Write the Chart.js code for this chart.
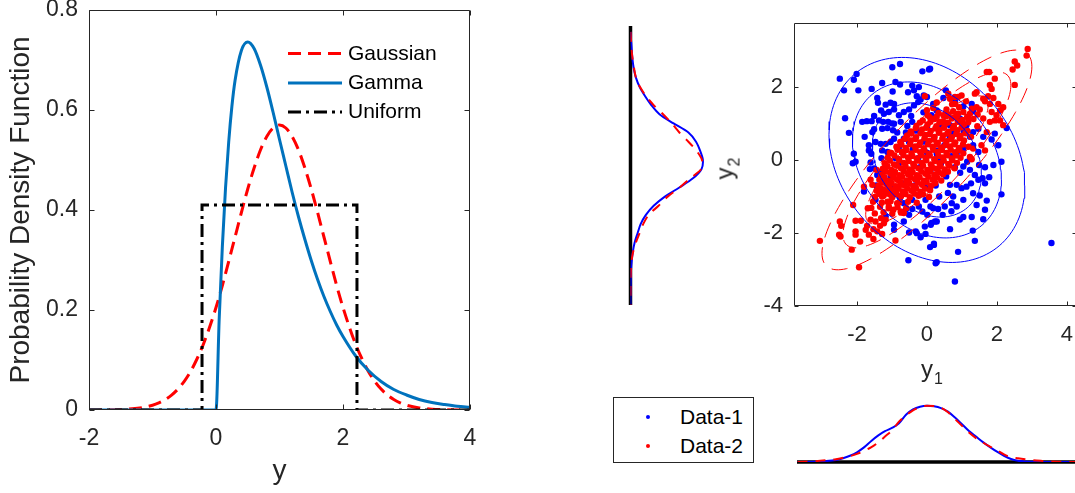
<!DOCTYPE html>
<html>
<head>
<meta charset="utf-8">
<script src="https://cdn.jsdelivr.net/npm/chart.js@4.4.1/dist/chart.umd.min.js"></script>
<style>
  html, body { margin: 0; padding: 0; background: #fff; overflow: hidden; }
  body { position: relative; width: 1075px; height: 493px; font-family: "Liberation Sans", Arial, sans-serif; color: #262626; }
  canvas { position: absolute; }
  #pdf { left: 0; top: 0; }
  #margY { left: 600px; top: 0; }
  #scatter { left: 700px; top: 0; }
  #margX { left: 790px; top: 390px; }
  .axlabel { position: absolute; font-size: 24px; line-height: 24px; white-space: nowrap; }
  .axlabel .sub { font-size: 16px; position: relative; top: 7px; margin-left: 1px; }
  #y1label { left: 921px; top: 357px; }
  #y2label { left: 706px; top: 155px; width: 40px; text-align: center; transform: rotate(-90deg); }
  #dataLegend { position: absolute; left: 613px; top: 397px; width: 139px; height: 64px; border: 1px solid #262626; background: #fff; }
  .lg-row { position: absolute; left: 0; width: 139px; height: 24px; line-height: 24px; font-size: 21px; color: #000; }
  .lg-dot { position: absolute; left: 32px; width: 4px; height: 4px; border-radius: 50%; }
  .lg-text { position: absolute; left: 66px; top: 0; }
</style>
</head>
<body>
<canvas id="pdf" width="480" height="493"></canvas>
<canvas id="margY" width="130" height="320"></canvas>
<canvas id="scatter" width="385" height="400"></canvas>
<canvas id="margX" width="295" height="90"></canvas>
<div id="y2label" class="axlabel">y<span class="sub">2</span></div>
<div id="y1label" class="axlabel">y<span class="sub">1</span></div>
<div id="dataLegend"></div>
<script>
// ---- left panel: probability density functions ----
const pdfNames = ['Gaussian', 'Gamma', 'Uniform'];
const pdfXTicks = [-2, 0, 2, 4];
const pdfXTickLabels = ['-2', '0', '2', '4'];
const pdfYTicks = [0, 0.2, 0.4, 0.6, 0.8];
const pdfYTickLabels = ['0', '0.2', '0.4', '0.6', '0.8'];

const gaussX = [-2, -1.6, -1.4, -1.2, -1.0, -0.9, -0.8, -0.7, -0.6, -0.5, -0.4, -0.3, -0.2, -0.1,
  0, 0.1, 0.2, 0.3, 0.4, 0.5, 0.6, 0.7, 0.8, 0.9, 1.0, 1.1, 1.2, 1.3, 1.4, 1.5, 1.6, 1.7, 1.8, 1.9,
  2.0, 2.1, 2.2, 2.3, 2.4, 2.5, 2.6, 2.7, 2.8, 2.9, 3.0, 3.2, 3.4, 3.6, 4.0];
const gaussY = [0.0001, 0.0006, 0.0016, 0.0041, 0.0096, 0.0143, 0.0209, 0.0299, 0.0418, 0.0573, 0.0771, 0.102, 0.131, 0.166,
  0.205, 0.249, 0.297, 0.346, 0.395, 0.442, 0.484, 0.520, 0.547, 0.564, 0.570, 0.564, 0.547, 0.520, 0.484, 0.442, 0.395, 0.346, 0.297, 0.249,
  0.205, 0.166, 0.131, 0.102, 0.0771, 0.0573, 0.0418, 0.0299, 0.0209, 0.0143, 0.0096, 0.0041, 0.0016, 0.0006, 0.0001];

const gammaX = [-2, -1, 0, 0.05, 0.1, 0.15, 0.2, 0.25, 0.3, 0.4, 0.5, 0.6, 0.7, 0.8, 0.9, 1.0, 1.1, 1.2, 1.3, 1.4,
  1.5, 1.6, 1.7, 1.8, 1.9, 2.0, 2.2, 2.4, 2.6, 2.8, 3.0, 3.2, 3.4, 3.6, 3.8, 4.0];
const gammaY = [0, 0, 0, 0.181, 0.327, 0.444, 0.536, 0.607, 0.659, 0.719, 0.736, 0.723, 0.690, 0.646, 0.595, 0.541, 0.488, 0.435, 0.386, 0.341,
  0.299, 0.261, 0.227, 0.197, 0.170, 0.147, 0.108, 0.079, 0.057, 0.041, 0.030, 0.021, 0.015, 0.011, 0.0076, 0.0054];

const uniformX = [-2, -0.22, -0.22, 2.22, 2.22, 4];
const uniformY = [0, 0, 0.41, 0.41, 0, 0];

// ---- right panel: scatter of two data sets ----
const seriesNames = ['Data-1', 'Data-2'];
const scatterXTicks = [-2, 0, 2, 4];
const scatterXTickLabels = ['-2', '0', '2', '4'];
const scatterYTicks = [-4, -2, 0, 2];
const scatterYTickLabels = ['-4', '-2', '0', '2'];

const data1Points = [
  [-0.77,2.62],[-0.99,2.53],[-2.49,2.22],[-2.01,2.35],[-2.09,2.19],[-2.37,1.9],[-1.96,1.9],[-1.28,2.1],[-1.58,1.94],
  [-0.98,1.87],[-0.9,2.13],[-0.77,2.06],[-0.54,1.85],[-0.42,2.03],[-0.13,2.42],[0.06,2.47],[-0.23,1.99],[-0.37,1.9],
  [-2.34,1.14],[-2.23,0.74],[-1.78,0.63],[-1.85,1.04],[-1.72,1.06],[-1.51,1.2],[-1.58,1.06],[-1.56,0.76],[-1.51,0.84],
  [-1.42,1.69],[-1.4,1.56],[-1.18,1.51],[-1.04,1.56],[-0.94,1.53],[-1.31,1.35],[-1.23,1.26],[-1.09,1.31],[-0.94,1.38],
  [-1.37,1.08],[-1.25,1.04],[-1.11,1.04],[-0.94,0.99],[-1.28,0.85],[-1.13,0.87],[-0.97,0.81],[-0.8,1.22],[-0.66,1.31],
  [-0.51,1.38],[-0.37,1.49],[-0.25,1.58],[-0.29,1.74],[-0.18,1.65],[-0.09,1.76],[0,1.72],[-0.75,1.04],[-0.56,0.93],
  [-0.42,1.04],[-0.94,0.58],[-1.66,0.4],[-1.59,0.17],[-1.66,0.26],[-1.47,0.49],[-1.32,0.44],[-1.18,0.44],[-1.04,0.49],
  [-1.28,0.26],[-1.13,0.22],[-0.66,0.58],[-0.51,0.49],[-0.8,0.35],[-2.09,0.17],[-2.04,-0.05],[-2.12,-0.09],
  [0.09,2.49],[0.54,1.9],[0.47,1.69],[0.18,1.53],[0.28,1.35],[0.13,1.22],[1.28,1.53],[1.04,1.46],[1.32,1.33],
  [0.94,1.13],[1.13,0.95],[1.32,0.76],[1.47,0.85],[1.61,0.63],[1.94,0.72],[1.85,0.56],[2.04,0.4],[2.28,0.87],
  [2.13,-0.05],[1.47,0.22],[1.32,0.4],[1.23,0.63],[0.75,0.72],[0.66,0.95],[1.04,0.31],[0.85,0.17],[0.28,0.17],[0.32,0.04],
  [1.9,-0.14],[1.66,-0.2],[1.49,-0.14],[1.04,-0.18],[1.23,-0.27],[1.37,-0.41],[1.59,-0.5],[1.78,-0.47],[1.66,-0.64],
  [1.47,-0.54],[1.26,-0.64],[1.13,-0.73],[0.99,-0.77],[0.85,-0.68],[0.66,-0.68],[2.13,-0.94],[1.32,-0.91],[1.51,-0.97],
  [1.71,-1.11],[1.42,-1.23],[1.04,-1.09],[0.75,-1.0],[0.71,-1.18],[0.85,-1.27],[0.51,-1.27],[0.32,-1.34],[0.18,-1.32],
  [1.66,-1.36],[1.61,-1.62],[1.28,-1.56],[1.04,-1.56],[0.94,-1.63],[0.13,-1.72],[0.28,-1.68],[0.66,-1.89],[1.31,-1.93],
  [1.37,-2.21],[0.2,-2.29],[0.09,-2.38],[0.89,-2.51],[0.28,-2.79],[0.8,-3.32],[3.56,-2.27],
  [-1.61,-0.07],[-1.51,-0.23],[-1.32,-0.32],[-1.18,-0.18],[-1.63,-0.25],[-1.42,-0.41],[-1.23,-0.5],[-1.04,-0.46],
  [-1.8,-0.86],[-1.47,-1.09],[-0.94,-0.77],[-0.77,-1.04],[-0.66,-1.18],[-0.42,-1.34],[-0.51,-1.5],[-0.66,-1.68],
  [-0.94,-1.77],[-0.94,-1.91],[-1.18,-1.54],[-0.51,-1.98],[-0.32,-1.95],[-0.18,-2.11],[-0.04,-2.02],[0.11,-1.77],
  [0.01,-1.5],[-0.13,-1.41],[-0.23,-1.27],[0.1,-1.27],[-0.04,-1.09],[-0.42,-1.09],[0.2,-2.32],[0.25,-2.82],[-0.53,-2.74],
  [-0.29,-2.0],[-0.06,-1.82],[0.23,-1.68],
  [-0.7,0.2],[-0.4,0.3],[-0.1,0.5],[0.2,0.6],[0.5,0.4],[0.7,0.1],[0.4,-0.1],[0.1,-0.3],[-0.2,-0.2],[-0.5,-0.4],
  [-0.8,-0.1],[-0.3,0.8],[0.0,0.9],[0.4,0.9],[-0.6,0.75],[0.55,-0.45],[0.25,-0.7],[-0.05,-0.75],[-0.35,-0.7],[-0.65,-0.65],
  [0.95,-0.35],[0.8,-0.2],[0.6,-0.9],[0.35,-1.0],[-0.2,-0.95],[-0.9,0.05],[-1.0,-0.3],[-0.85,0.75],[0.0,0.2],[0.3,0.25],
  [-0.25,0.05],[0.65,0.65],[-0.45,1.2],[-0.1,1.3],[0.55,1.3],[0.8,1.6],[1.05,0.8],[1.15,-0.05],[-1.45,-0.7],[-1.1,-0.85],
  [-1.3,0.05],[-0.6,-1.35],[0.45,-1.5],[-1.0,1.0],[0.7,-1.4]
];

const data2Points = [
  [2.88,3.03],[2.85,2.85],[2.51,2.69],[2.58,2.58],[2.45,2.47],[2.51,2.05],[1.94,2.22],[1.8,2.05],[1.85,1.94],[1.71,2.4],
  [1.78,2.4],[1.75,1.74],[1.9,1.69],[1.42,1.85],[1.37,1.81],[2.04,1.53],[2.18,1.44],[2.09,1.35],[1.8,1.53],[1.66,1.6],
  [1.61,1.67],[1.51,1.38],[1.42,1.44],[1.85,1.31],[1.99,1.22],[2.09,1.08],[2.18,0.95],[1.94,1.08],[1.8,1.04],[1.61,1.13],
  [1.23,1.26],[1.18,1.13],[1.04,1.31],[0.99,1.76],[0.89,1.72],[0.8,1.72],[0.66,1.67],[0.61,1.81],[0.8,1.53],[0.75,1.33],
  [0.89,1.26],[0.94,1.04],[1.71,0.76],[1.56,0.4],[1.66,0.26],[1.32,0.31],[1.23,0.08],[1.28,0.02],[0.47,1.22],[0.37,1.04],
  [-0.06,1.74],[0.0,1.36],[-1.06,0.2],[-0.86,0.35],[-1.44,-0.27],
  [-3.06,-2.21],[-2.51,-2.04],[-2.47,-2.09],[-2.49,-1.68],[-2.45,-1.8],[-2.04,-1.95],[-2.04,-2.04],[-1.91,-2.23],
  [-2.15,-2.45],[-1.94,-2.93],[-1.53,-2.16],[-1.66,-2.04],[-1.75,-1.91],[-1.71,-1.8],[-1.53,-1.89],[-1.42,-1.95],
  [-1.28,-2.02],[-0.9,-2.2],[-1.34,-1.8],[-1.23,-1.73],[-2.04,-1.66],[-1.89,-1.66],[-1.61,-1.63],[-1.47,-1.68],
  [-1.31,-1.59],[-1.18,-1.63],[-1.69,-1.32],[-2.11,-1.23],[-1.8,-0.73],[-1.61,-0.54],[-1.56,-0.68],[-1.23,-0.82],
  [-1.28,-1.0],[-1.13,-1.14],[-1.09,-1.27],[-0.96,-1.36],[-0.85,-1.18],[-0.75,-1.41],[-0.66,-1.45],[-1.04,-0.95],
  [-0.9,-0.91],[-0.75,-0.68],[-0.85,-0.54],[-0.94,-0.36],[-1.13,-0.59],
  [0.28,1.57],[0.72,1.52],[1.12,1.6],
  [0.18,1.42],[0.56,1.38],[0.92,1.44],[1.28,1.4],
  [0.02,1.22],[0.33,1.28],[0.62,1.24],[0.86,1.2],[1.45,1.24],
  [-0.12,1.08],[0.21,1.12],[0.46,1.06],[0.71,1.13],[1.01,1.09],[1.33,1.12],
  [-0.3,0.93],[0.02,0.97],[0.27,0.92],[0.52,0.98],[0.77,0.93],[1.06,0.97],[1.44,0.92],
  [-0.46,0.78],[-0.14,0.83],[0.11,0.79],[0.36,0.82],[0.62,0.77],[0.87,0.81],[1.16,0.79],
  [-0.57,0.66],[-0.31,0.62],[-0.04,0.68],[0.22,0.63],[0.46,0.67],[0.71,0.62],[0.96,0.66],[1.26,0.63],
  [-0.76,0.49],[-0.46,0.53],[-0.19,0.48],[0.06,0.52],[0.31,0.47],[0.56,0.51],[0.81,0.48],[1.06,0.53],
  [-0.87,0.36],[-0.61,0.33],[-0.34,0.37],[-0.09,0.32],[0.16,0.36],[0.41,0.34],[0.66,0.37],[0.91,0.33],[1.19,0.36],
  [-1.02,0.19],[-0.71,0.22],[-0.44,0.18],[-0.19,0.21],[0.06,0.17],[0.31,0.22],[0.56,0.19],[0.81,0.21],[1.04,0.18],
  [-1.12,0.06],[-0.81,0.03],[-0.54,0.07],[-0.29,0.04],[-0.04,0.06],[0.21,0.02],[0.46,0.07],[0.71,0.04],[0.96,0.06],
  [-1.21,-0.09],[-0.94,-0.12],[-0.66,-0.08],[-0.39,-0.11],[-0.14,-0.08],[0.11,-0.12],[0.36,-0.09],[0.61,-0.11],[0.86,-0.08],
  [-1.26,-0.24],[-1.01,-0.27],[-0.74,-0.23],[-0.49,-0.26],[-0.24,-0.23],[0.01,-0.27],[0.26,-0.24],[0.51,-0.26],[0.79,-0.23],
  [-1.31,-0.41],[-1.04,-0.38],[-0.79,-0.42],[-0.54,-0.39],[-0.29,-0.42],[-0.04,-0.38],[0.21,-0.41],[0.46,-0.39],
  [-1.36,-0.54],[-1.09,-0.57],[-0.84,-0.53],[-0.59,-0.56],[-0.34,-0.53],[-0.09,-0.57],[0.16,-0.54],[0.41,-0.56],
  [-1.39,-0.71],[-1.14,-0.68],[-0.89,-0.72],[-0.64,-0.69],[-0.39,-0.72],[-0.14,-0.68],[0.11,-0.71],
  [-1.44,-0.84],[-1.19,-0.87],[-0.94,-0.83],[-0.69,-0.86],[-0.44,-0.84],[-0.19,-0.87],[0.09,-0.83],
  [-1.49,-1.01],[-1.24,-0.98],[-0.99,-1.02],[-0.74,-0.99],[-0.49,-1.02],[-0.24,-0.98],[0.06,-1.01],
  [-1.54,-1.14],[-1.29,-1.17],[-1.04,-1.13],[-0.79,-1.16],[-0.54,-1.14],[-0.29,-1.17],
  [-1.59,-1.31],[-1.34,-1.28],[-1.09,-1.32],[-0.84,-1.29],[-0.59,-1.31],
  [-1.49,-1.46],[-1.24,-1.43],[-0.99,-1.47],[-0.74,-1.44],
  [-0.2,1.02],[0.1,1.04],[0.36,1.03],[0.6,1.02],[0.88,1.04],[1.18,1.03],
  [0.08,1.17],[0.28,1.18],[0.55,1.19],[0.78,1.17],[1.15,1.18],
  [-0.32,0.87],[-0.02,0.88],[0.24,0.86],[0.49,0.88],[0.74,0.87],[0.99,0.89],
  [-0.44,0.72],[-0.18,0.73],[0.08,0.71],[0.34,0.74],[0.58,0.72],[0.84,0.71],[1.1,0.73],
  [-0.62,0.58],[-0.33,0.57],[-0.07,0.59],[0.19,0.56],[0.44,0.58],[0.69,0.57],[0.94,0.59],
  [-0.73,0.42],[-0.48,0.43],[-0.22,0.41],[0.03,0.43],[0.28,0.42],[0.53,0.41],[0.78,0.43],[1.03,0.42],
  [-0.84,0.28],[-0.58,0.27],[-0.32,0.28],[-0.07,0.26],[0.18,0.28],[0.43,0.27],[0.68,0.28],[0.93,0.27],
  [-0.93,0.12],[-0.67,0.13],[-0.42,0.11],[-0.17,0.13],[0.08,0.12],[0.33,0.11],[0.58,0.13],[0.83,0.12],
  [-1.06,-0.02],[-0.79,-0.01],[-0.52,-0.03],[-0.27,-0.02],[-0.02,-0.01],[0.23,-0.03],[0.48,-0.02],[0.73,-0.01],
  [-1.13,-0.17],[-0.86,-0.16],[-0.61,-0.18],[-0.36,-0.17],[-0.11,-0.16],[0.14,-0.18],[0.39,-0.17],[0.64,-0.16],
  [-1.17,-0.32],[-0.91,-0.33],[-0.66,-0.31],[-0.41,-0.33],[-0.16,-0.32],[0.09,-0.31],[0.34,-0.33],[0.6,-0.32],
  [-1.22,-0.47],[-0.96,-0.48],[-0.71,-0.46],[-0.46,-0.48],[-0.21,-0.47],[0.04,-0.46],[0.29,-0.48],
  [-1.27,-0.62],[-1.01,-0.63],[-0.76,-0.61],[-0.51,-0.63],[-0.26,-0.62],[-0.01,-0.61],[0.24,-0.63],
  [-1.31,-0.78],[-1.06,-0.77],[-0.81,-0.79],[-0.56,-0.78],[-0.31,-0.77],[-0.06,-0.79],
  [-1.36,-0.93],[-1.11,-0.92],[-0.86,-0.94],[-0.61,-0.93],[-0.36,-0.92],[-0.11,-0.94]
];

// fitted-contour parameters (centre, x/y extent of each contour, correlation)
const contourCenter = [0, 0];
const data1Rho = -0.25;
const data2Rho = 0.85;
const data1Contours = [1.56, 2.13, 2.8];
const data2Contours = [1.75, 2.4, 3.0];

// ---- marginal densities ----
const margYGrid = [3.5, 3.0, 2.75, 2.5, 2.25, 2.0, 1.75, 1.5, 1.25, 1.0, 0.75, 0.5, 0.25, 0, -0.25, -0.5, -0.75, -1.0,
  -1.25, -1.5, -1.75, -2.0, -2.25, -2.5, -2.75, -3.0, -3.5, -3.95];
const margYData1 = [0, 0.007, 0.011, 0.018, 0.03, 0.05, 0.08, 0.115, 0.16, 0.238, 0.32, 0.362, 0.385, 0.4, 0.392, 0.345, 0.27, 0.19,
  0.128, 0.085, 0.056, 0.039, 0.023, 0.013, 0.007, 0.003, 0.0005, 0];
const margYData2 = [0, 0.006, 0.012, 0.02, 0.03, 0.052, 0.085, 0.128, 0.18, 0.228, 0.27, 0.32, 0.365, 0.395, 0.39, 0.33, 0.272, 0.205,
  0.155, 0.1, 0.07, 0.05, 0.03, 0.015, 0.006, 0.002, 0, 0];

const margXGrid = [-3.7, -3.2, -2.9, -2.6, -2.4, -2.2, -2.0, -1.8, -1.6, -1.4, -1.2, -1.0, -0.8, -0.6, -0.4, -0.2, 0, 0.2, 0.4,
  0.6, 0.8, 1.0, 1.2, 1.4, 1.6, 1.8, 2.0, 2.2, 2.4, 2.6, 2.8, 3.0, 3.3, 3.6, 4.3];
const margXData1 = [0, 0.001, 0.006, 0.015, 0.027, 0.045, 0.07, 0.105, 0.15, 0.19, 0.222, 0.245, 0.278, 0.34, 0.378, 0.398, 0.405, 0.401, 0.388,
  0.362, 0.32, 0.272, 0.223, 0.183, 0.143, 0.107, 0.074, 0.045, 0.022, 0.009, 0.004, 0.001, 0, 0, 0];
const margXData2 = [0, 0.006, 0.012, 0.02, 0.03, 0.042, 0.058, 0.08, 0.105, 0.14, 0.183, 0.228, 0.29, 0.335, 0.372, 0.394, 0.404, 0.403, 0.39,
  0.358, 0.31, 0.26, 0.212, 0.172, 0.14, 0.11, 0.085, 0.055, 0.035, 0.027, 0.02, 0.014, 0.008, 0.003, 0];

const BLUE = '#0000FF', RED = '#FF0000', AXIS = '#262626';

Chart.defaults.font.family = '"Liberation Sans", Arial, Helvetica, sans-serif';
Chart.defaults.color = AXIS;
Chart.defaults.animation = false;
Chart.defaults.plugins.legend.display = false;
Chart.defaults.plugins.tooltip.enabled = false;

const zip = (xs, ys) => xs.map((x, i) => ({x: x, y: ys[i]}));
const fixedTicks = vals => scale => { scale.ticks = vals.map(v => ({value: v})); };
// fixed axis thickness and no extra room for overhanging tick labels
const fitX = h => s => { s.height = h; s.paddingLeft = 0; s.paddingRight = 0; };
const fitY = w => s => { s.width = w; s.paddingTop = 0; s.paddingBottom = 0; };

function ellipsePoints(c, r, rho) {
  const pts = [];
  const s = Math.sqrt(1 - rho * rho);
  for (let k = 0; k <= 144; k++) {
    const t = 2 * Math.PI * k / 144;
    pts.push({x: c[0] + r * Math.cos(t), y: c[1] + r * (rho * Math.cos(t) + s * Math.sin(t))});
  }
  return pts;
}

// box round the plot area with inward ticks on every side (matlab look)
function drawBox(chart, len) {
  const {ctx, chartArea: a} = chart;
  const xs = chart.scales.x, ys = chart.scales.y;
  const L = Math.round(a.left) + 0.5, R = Math.round(a.right) - 0.5;
  const T = Math.round(a.top) + 0.5, B = Math.round(a.bottom) - 0.5;
  ctx.save();
  ctx.setLineDash([]);
  ctx.strokeStyle = AXIS;
  ctx.lineWidth = 1;
  ctx.beginPath();
  ctx.moveTo(L, T); ctx.lineTo(R, T); ctx.lineTo(R, B); ctx.lineTo(L, B); ctx.closePath();
  xs.ticks.forEach(t => {
    const p = Math.round(xs.getPixelForValue(t.value)) + 0.5;
    ctx.moveTo(p, B); ctx.lineTo(p, B - len);
    ctx.moveTo(p, T); ctx.lineTo(p, T + len);
  });
  ys.ticks.forEach(t => {
    const p = Math.round(ys.getPixelForValue(t.value)) + 0.5;
    ctx.moveTo(L, p); ctx.lineTo(L + len, p);
    ctx.moveTo(R, p); ctx.lineTo(R - len, p);
  });
  ctx.stroke();
  ctx.restore();
}

const pdfDecor = {
  id: 'pdfDecor',
  afterDraw(chart) {
    drawBox(chart, 5);
    const {ctx, chartArea: a} = chart;
    const rows = [44, 73.5, 102.5];
    ctx.save();
    ctx.font = '21px "Liberation Sans", Arial, sans-serif';
    ctx.textBaseline = 'middle';
    ctx.textAlign = 'left';
    ctx.fillStyle = '#000';
    chart.data.datasets.forEach((ds, i) => {
      const y = a.top + rows[i];
      ctx.beginPath();
      ctx.strokeStyle = ds.borderColor;
      ctx.lineWidth = ds.borderWidth;
      ctx.setLineDash(ds.borderDash || []);
      ctx.moveTo(a.right - 182, y - 0.5);
      ctx.lineTo(a.right - 128, y - 0.5);
      ctx.stroke();
      ctx.setLineDash([]);
      ctx.fillText(ds.label, a.right - 122, y);
    });
    ctx.restore();
  }
};

const scatterDecor = {
  id: 'scatterDecor',
  afterDraw(chart) { drawBox(chart, 4); }
};

// thick zero line of the marginal plots
const baseline = {
  id: 'baseline',
  beforeDatasetsDraw(chart, args, o) {
    const {ctx, chartArea: a} = chart;
    ctx.save();
    ctx.strokeStyle = '#000';
    ctx.lineWidth = 3.5;
    ctx.beginPath();
    if (o.vertical) {
      const p = chart.scales.x.getPixelForValue(0);
      ctx.moveTo(p, a.top); ctx.lineTo(p, a.bottom);
    } else {
      const p = chart.scales.y.getPixelForValue(0);
      ctx.moveTo(a.left, p); ctx.lineTo(a.right, p);
    }
    ctx.stroke();
    ctx.restore();
  }
};

new Chart(document.getElementById('pdf'), {
  type: 'scatter',
  data: {
    datasets: [
      {label: pdfNames[0], data: zip(gaussX, gaussY), showLine: true, borderColor: RED, borderWidth: 3,
        borderDash: [13, 7], pointRadius: 0, cubicInterpolationMode: 'monotone', order: 3},
      {label: pdfNames[1], data: zip(gammaX, gammaY), showLine: true, borderColor: '#0072BD', borderWidth: 3,
        pointRadius: 0, cubicInterpolationMode: 'monotone', order: 2},
      {label: pdfNames[2], data: zip(uniformX, uniformY), showLine: true, borderColor: '#000000', borderWidth: 3,
        borderDash: [13, 5, 3, 5], pointRadius: 0, tension: 0, order: 1}
    ]
  },
  options: {
    responsive: false,
    layout: {padding: {top: 10, right: 10, left: 0, bottom: 0}},
    scales: {
      x: {
        type: 'linear', min: -2, max: 4,
        afterBuildTicks: fixedTicks(pdfXTicks),
        afterFit: fitX(83),
        grid: {display: false, drawTicks: false},
        border: {display: false},
        ticks: {font: {size: 23}, padding: 15, maxRotation: 0, autoSkip: false,
          callback: (v, i) => pdfXTickLabels[i]},
        title: {display: true, text: 'y', font: {size: 28}, padding: {top: 0, bottom: 5}}
      },
      y: {
        type: 'linear', min: 0, max: 0.8,
        afterBuildTicks: fixedTicks(pdfYTicks),
        afterFit: fitY(89),
        grid: {display: false, drawTicks: false},
        border: {display: false},
        ticks: {font: {size: 23}, padding: 11, autoSkip: false,
          callback: (v, i) => pdfYTickLabels[i]},
        title: {display: true, text: 'Probability Density Function', font: {size: 28}, padding: {top: 4, bottom: 0}}
      }
    }
  },
  plugins: [pdfDecor]
});

const scatterSets = [];
data2Contours.forEach(r => scatterSets.push({data: ellipsePoints(contourCenter, r, data2Rho), showLine: true,
  borderColor: RED, borderWidth: 1, borderDash: [16, 10], pointRadius: 0, tension: 0, order: 0}));
data1Contours.forEach(r => scatterSets.push({data: ellipsePoints(contourCenter, r, data1Rho), showLine: true,
  borderColor: BLUE, borderWidth: 1, pointRadius: 0, tension: 0, order: 0}));
scatterSets.push({label: seriesNames[1], data: data2Points.map(p => ({x: p[0], y: p[1]})),
  backgroundColor: RED, borderColor: RED, pointRadius: 3.2, borderWidth: 0, order: 1});
scatterSets.push({label: seriesNames[0], data: data1Points.map(p => ({x: p[0], y: p[1]})),
  backgroundColor: BLUE, borderColor: BLUE, pointRadius: 3.2, borderWidth: 0, order: 2});

new Chart(document.getElementById('scatter'), {
  type: 'scatter',
  data: {datasets: scatterSets},
  options: {
    responsive: false,
    layout: {padding: {top: 23, right: 8, left: 0, bottom: 0}},
    scales: {
      x: {
        type: 'linear', min: -3.8, max: 4.29,
        afterBuildTicks: fixedTicks(scatterXTicks),
        afterFit: fitX(93.6),
        grid: {display: false, drawTicks: false},
        border: {display: false},
        ticks: {font: {size: 22}, padding: 15, maxRotation: 0, autoSkip: false,
          callback: (v, i) => scatterXTickLabels[i]}
      },
      y: {
        type: 'linear', min: -4, max: 3.74,
        afterBuildTicks: fixedTicks(scatterYTicks),
        afterFit: fitY(94),
        grid: {display: false, drawTicks: false},
        border: {display: false},
        ticks: {font: {size: 22}, padding: 11, autoSkip: false,
          callback: (v, i) => scatterYTickLabels[i]}
      }
    }
  },
  plugins: [scatterDecor]
});

// left marginal: density of y2 drawn sideways
new Chart(document.getElementById('margY'), {
  type: 'scatter',
  data: {
    datasets: [
      {data: zip(margYData2, margYGrid), showLine: true, borderColor: RED, borderWidth: 2, borderDash: [10, 8],
        pointRadius: 0, tension: 0.3, order: 0},
      {data: zip(margYData1, margYGrid), showLine: true, borderColor: BLUE, borderWidth: 2,
        pointRadius: 0, tension: 0.3, order: 1}
    ]
  },
  options: {
    responsive: false,
    layout: {padding: {top: 26, bottom: 15, left: 30.5, right: 9}},
    scales: {
      x: {type: 'linear', min: 0, max: 0.5, display: false},
      y: {type: 'linear', min: -3.96, max: 3.66, display: false}
    },
    plugins: {baseline: {vertical: true}}
  },
  plugins: [baseline]
});

// bottom marginal: density of y1
new Chart(document.getElementById('margX'), {
  type: 'scatter',
  data: {
    datasets: [
      {data: zip(margXGrid, margXData2), showLine: true, borderColor: RED, borderWidth: 2, borderDash: [10, 8],
        pointRadius: 0, cubicInterpolationMode: 'monotone', order: 0},
      {data: zip(margXGrid, margXData1), showLine: true, borderColor: BLUE, borderWidth: 2,
        pointRadius: 0, cubicInterpolationMode: 'monotone', order: 1}
    ]
  },
  options: {
    responsive: false,
    layout: {padding: {top: 10, bottom: 18, left: 7, right: 8}},
    scales: {
      x: {type: 'linear', min: -3.714, max: 4.286, display: false},
      y: {type: 'linear', min: 0, max: 0.446, display: false}
    },
    plugins: {baseline: {vertical: false}}
  },
  plugins: [baseline]
});

// legend box for the two data sets
const legendBox = document.getElementById('dataLegend');
const legendColors = [BLUE, RED];
const legendRowTop = [7, 35.5];
seriesNames.forEach((name, i) => {
  const row = document.createElement('div');
  row.className = 'lg-row';
  row.style.top = legendRowTop[i] + 'px';
  const dot = document.createElement('span');
  dot.className = 'lg-dot';
  dot.style.top = '10px';
  dot.style.background = legendColors[i];
  const txt = document.createElement('span');
  txt.className = 'lg-text';
  txt.textContent = name;
  row.appendChild(dot);
  row.appendChild(txt);
  legendBox.appendChild(row);
});
</script>
</body>
</html>
